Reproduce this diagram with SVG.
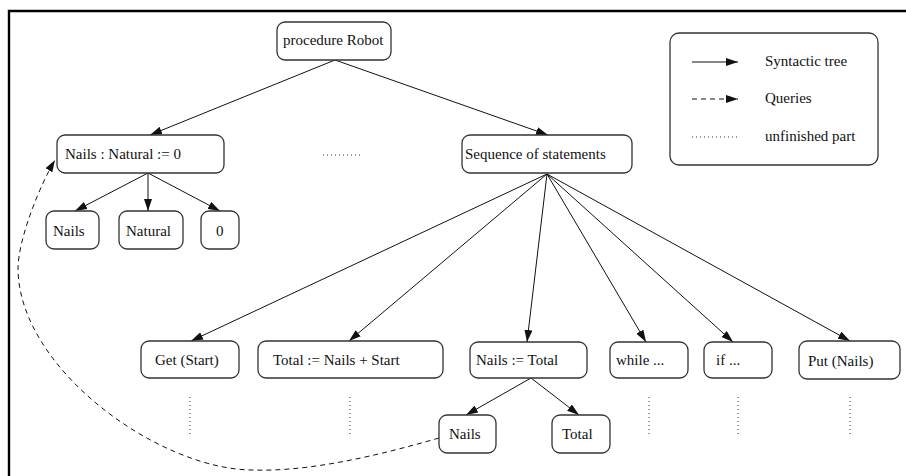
<svg xmlns="http://www.w3.org/2000/svg" width="906" height="476" viewBox="0 0 906 476" font-family="'Liberation Serif', 'Times New Roman', serif" font-size="15">
<defs>
<style>
.node rect{fill:#fff;stroke:#333;stroke-width:1.3}
.lbl{font-family:'Liberation Serif','Times New Roman',serif;font-size:15px;fill:#111}
.edge{stroke:#111;stroke-width:1;fill:none}
.dash{stroke:#111;stroke-width:1;fill:none;stroke-dasharray:5,4}
.dot{stroke:#333;stroke-width:1;fill:none;stroke-dasharray:1,3}
</style>
<marker id="ah" markerUnits="userSpaceOnUse" markerWidth="12" markerHeight="8" refX="12" refY="4" orient="auto">
<path d="M0,0 L12,4 L0,8 Z" fill="#111"/>
</marker>
</defs>
<rect x="0" y="0" width="906" height="476" fill="#fff"/>
<path d="M9,476 L9,11 L906,11" fill="none" stroke="#000" stroke-width="2.4"/>

<g id="connectors">
<line class="edge" x1="335" y1="60" x2="150" y2="135" marker-end="url(#ah)"/>
<line class="edge" x1="335" y1="60" x2="548" y2="135" marker-end="url(#ah)"/>
<line class="edge" x1="148" y1="173" x2="75" y2="211" marker-end="url(#ah)"/>
<line class="edge" x1="148" y1="173" x2="148" y2="211" marker-end="url(#ah)"/>
<line class="edge" x1="148" y1="173" x2="220" y2="211" marker-end="url(#ah)"/>
<line class="edge" x1="547" y1="174" x2="191" y2="341" marker-end="url(#ah)"/>
<line class="edge" x1="547" y1="174" x2="349" y2="341" marker-end="url(#ah)"/>
<line class="edge" x1="547" y1="174" x2="527" y2="342" marker-end="url(#ah)"/>
<line class="edge" x1="547" y1="174" x2="646" y2="342" marker-end="url(#ah)"/>
<line class="edge" x1="547" y1="174" x2="733" y2="342" marker-end="url(#ah)"/>
<line class="edge" x1="547" y1="174" x2="850" y2="341" marker-end="url(#ah)"/>
<line class="edge" x1="531" y1="378" x2="466" y2="415" marker-end="url(#ah)"/>
<line class="edge" x1="531" y1="378" x2="579" y2="415" marker-end="url(#ah)"/>
<path class="dash" d="M439,438 C380,455 310,472 253,470 C160,470 20,370 18,270 C17.6,240 40,185 55,160" marker-end="url(#ah)"/>
<line class="dot" x1="323" y1="155" x2="361" y2="155"/>
<line class="dot" x1="190" y1="397" x2="190" y2="434"/>
<line class="dot" x1="350" y1="397" x2="350" y2="434"/>
<line class="dot" x1="649" y1="397" x2="649" y2="434"/>
<line class="dot" x1="738" y1="397" x2="738" y2="434"/>
<line class="dot" x1="850" y1="397" x2="850" y2="434"/>
</g>

<g id="n-procedure" class="node"><rect x="277" y="22" width="114" height="38" rx="8"/><text class="lbl" x="283" y="45">procedure Robot</text></g>
<g id="n-decl" class="node"><rect x="57" y="135" width="167" height="38" rx="8"/><text class="lbl" x="65" y="159">Nails : Natural := 0</text></g>
<g id="n-seq" class="node"><rect x="462" y="135" width="170" height="38" rx="8"/><text class="lbl" x="465" y="159">Sequence of statements</text></g>
<g id="n-nails1" class="node"><rect x="46" y="211" width="53" height="38" rx="8"/><text class="lbl" x="53" y="236">Nails</text></g>
<g id="n-natural" class="node"><rect x="119" y="211" width="64" height="38" rx="8"/><text class="lbl" x="126" y="236">Natural</text></g>
<g id="n-zero" class="node"><rect x="201" y="211" width="38" height="38" rx="8"/><text class="lbl" x="216" y="236">0</text></g>
<g id="n-get" class="node"><rect x="141" y="341" width="98" height="37" rx="8"/><text class="lbl" x="155" y="365">Get (Start)</text></g>
<g id="n-total" class="node"><rect x="258" y="341" width="185" height="37" rx="8"/><text class="lbl" x="273" y="365">Total := Nails + Start</text></g>
<g id="n-assign" class="node"><rect x="470" y="342" width="117" height="36" rx="8"/><text class="lbl" x="476" y="365">Nails := Total</text></g>
<g id="n-while" class="node"><rect x="610" y="342" width="78" height="36" rx="8"/><text class="lbl" x="616" y="365">while ...</text></g>
<g id="n-if" class="node"><rect x="704" y="342" width="68" height="36" rx="8"/><text class="lbl" x="716" y="365">if ...</text></g>
<g id="n-put" class="node"><rect x="799" y="341" width="101" height="38" rx="8"/><text class="lbl" x="808" y="366">Put (Nails)</text></g>
<g id="n-nails2" class="node"><rect x="439" y="415" width="57" height="38" rx="8"/><text class="lbl" x="449" y="439">Nails</text></g>
<g id="n-total2" class="node"><rect x="552" y="415" width="58" height="38" rx="8"/><text class="lbl" x="562" y="439">Total</text></g>

<g id="legend" class="node">
<rect x="670" y="33" width="208" height="132" rx="9"/>
<line class="edge" x1="692" y1="62" x2="738" y2="62" marker-end="url(#ah)"/>
<text class="lbl" x="765" y="66">Syntactic tree</text>
<line class="dash" x1="692" y1="99" x2="738" y2="99" marker-end="url(#ah)"/>
<text class="lbl" x="765" y="103">Queries</text>
<line class="dot" x1="692" y1="137" x2="738" y2="137"/>
<text class="lbl" x="765" y="141">unfinished part</text>
</g>
</svg>
